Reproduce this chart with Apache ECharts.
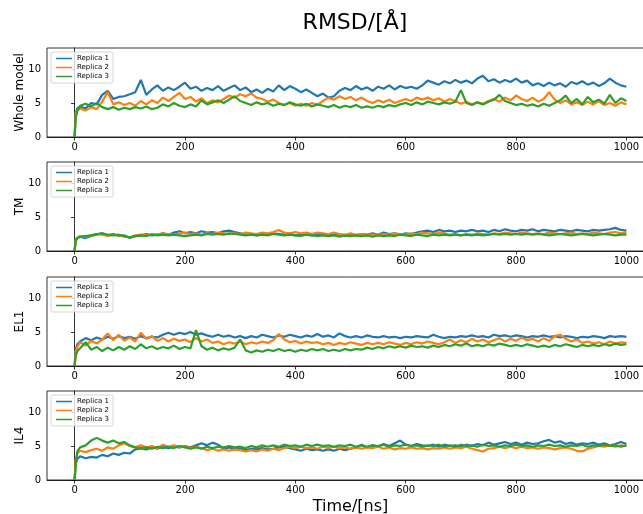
<!DOCTYPE html>
<html>
<head>
<meta charset="utf-8">
<script src="https://cdn.jsdelivr.net/npm/echarts@6/dist/echarts.min.js"></script>
<style>
  html, body { margin: 0; padding: 0; background: #fff; }
  #chart { width: 643px; height: 514px; }
</style>
</head>
<body>
<div id="chart"></div>
<script>
// time axis (ns)
const times = [0,2,5,
  10,20,30,40,50,60,70,80,90,100,
  110,120,130,140,150,160,170,180,190,200,
  210,220,230,240,250,260,270,280,290,300,
  310,320,330,340,350,360,370,380,390,400,
  410,420,430,440,450,460,470,480,490,500,
  510,520,530,540,550,560,570,580,590,600,
  610,620,630,640,650,660,670,680,690,700,
  710,720,730,740,750,760,770,780,790,800,
  810,820,830,840,850,860,870,880,890,900,
  910,920,930,940,950,960,970,980,990,1000];

// Whole model
const wholeRep1 = [0,3.6,4.2,
  4.5,4.2,5.0,4.8,6.2,6.8,5.6,5.9,6.0,6.3,
  6.6,8.4,6.2,7.0,7.6,6.8,7.3,6.9,7.4,8.0,
  7.1,7.4,6.8,7.2,6.9,7.5,6.8,7.2,7.6,6.9,
  7.3,6.6,7.0,6.5,7.1,6.7,7.6,6.9,7.5,7.1,
  6.6,7.0,6.5,6.0,6.4,5.8,6.0,6.8,7.2,6.9,
  7.5,7.0,7.3,6.8,7.4,7.1,7.6,7.0,7.5,7.2,
  7.4,7.1,7.6,8.3,8.0,7.7,8.2,7.9,8.4,8.0,
  8.3,7.9,8.6,9.0,8.2,8.5,8.0,8.4,8.1,8.6,
  8.0,8.3,7.6,7.9,7.5,8.0,7.6,7.9,7.4,8.1,
  7.8,8.2,7.7,8.0,7.5,7.9,8.6,8.0,7.6,7.4];
const wholeRep2 = [0,3.5,3.9,
  4.2,3.9,4.4,4.1,5.2,6.6,4.8,5.1,4.7,5.0,
  4.6,5.3,4.8,5.4,5.0,5.8,5.3,5.9,6.5,5.6,
  5.9,5.2,5.7,5.0,5.4,5.1,5.6,6.1,5.8,6.3,
  6.0,6.4,5.8,5.6,5.2,5.5,5.0,4.7,5.0,4.6,
  4.9,4.6,5.0,4.7,5.3,5.8,5.5,6.0,5.6,5.9,
  5.4,5.8,5.3,5.0,5.4,5.1,5.5,5.0,5.3,5.6,
  5.3,5.8,5.5,5.8,5.4,5.7,5.2,5.6,5.3,4.9,
  5.2,4.8,5.1,4.9,5.3,5.6,5.2,5.8,5.4,6.1,
  5.6,5.3,5.8,5.2,5.6,6.6,5.5,5.0,5.4,4.8,
  5.1,4.7,5.2,4.8,5.3,4.7,5.0,4.6,5.1,4.8];
const wholeRep3 = [0,2.8,3.8,
  4.6,4.9,4.5,5.0,4.4,4.1,4.4,4.0,4.3,4.1,
  4.4,4.2,4.5,4.1,4.3,4.8,4.5,5.0,4.6,4.4,
  4.8,4.5,5.4,4.8,5.1,5.4,5.0,5.5,6.0,5.3,
  5.0,4.7,5.1,4.8,5.0,4.6,4.9,4.7,5.1,4.8,
  4.6,4.9,4.5,4.8,4.6,4.4,4.7,4.3,4.6,4.4,
  4.7,4.3,4.5,4.3,4.6,4.4,4.7,4.5,4.8,5.0,
  4.7,5.1,4.8,5.2,5.0,4.8,5.1,4.9,5.2,6.9,
  5.0,4.7,5.1,4.8,5.2,5.5,6.2,5.3,5.0,4.7,
  4.9,4.6,4.8,4.5,4.9,4.6,5.0,5.4,6.1,5.0,
  5.6,4.8,5.9,5.1,5.5,4.9,6.2,5.0,5.7,5.3];

// TM
const tmRep1 = [0,1.6,1.9,
  2.1,1.9,2.2,2.4,2.6,2.3,2.5,2.2,2.3,1.9,
  2.2,2.3,2.5,2.3,2.4,2.6,2.4,2.7,2.9,2.6,
  2.8,2.6,2.9,2.7,2.8,2.6,2.9,3.0,2.8,2.6,
  2.4,2.5,2.3,2.5,2.4,2.6,2.5,2.4,2.6,2.3,
  2.5,2.4,2.3,2.5,2.4,2.3,2.5,2.4,2.2,2.4,
  2.3,2.5,2.4,2.6,2.4,2.7,2.5,2.6,2.4,2.6,
  2.5,2.7,2.9,3.0,2.8,3.1,2.9,3.0,2.8,3.0,
  2.9,3.1,2.9,3.0,2.8,3.1,2.9,3.2,3.0,2.9,
  3.1,3.0,3.2,2.9,3.1,3.0,2.9,3.1,3.0,2.9,
  3.1,3.0,2.9,3.1,3.0,3.1,3.2,3.4,3.1,3.0];
const tmRep2 = [0,1.7,2.0,
  2.2,2.1,2.3,2.5,2.4,2.2,2.4,2.3,2.1,2.0,
  2.3,2.4,2.3,2.5,2.4,2.6,2.5,2.4,2.6,2.7,
  2.5,2.6,2.4,2.6,2.5,2.7,2.6,2.5,2.6,2.5,
  2.7,2.6,2.5,2.7,2.6,2.8,3.1,2.7,2.6,2.8,
  2.6,2.7,2.5,2.7,2.6,2.5,2.7,2.5,2.4,2.6,
  2.4,2.5,2.3,2.4,2.3,2.5,2.4,2.6,2.5,2.4,
  2.6,2.5,2.7,2.6,2.5,2.7,2.6,2.4,2.5,2.3,
  2.5,2.4,2.6,2.5,2.4,2.6,2.5,2.7,2.6,2.5,
  2.7,2.6,2.5,2.6,2.5,2.7,2.6,2.5,2.6,2.7,
  2.5,2.6,2.5,2.7,2.6,2.5,2.7,2.8,2.6,2.7];
const tmRep3 = [0,1.5,1.9,
  2.1,2.2,2.3,2.5,2.6,2.4,2.3,2.4,2.2,2.0,
  2.2,2.3,2.2,2.4,2.3,2.4,2.3,2.4,2.3,2.2,
  2.3,2.4,2.3,2.5,2.4,2.5,2.4,2.6,2.5,2.4,
  2.3,2.4,2.3,2.4,2.3,2.5,2.4,2.3,2.4,2.3,
  2.2,2.4,2.3,2.2,2.3,2.2,2.3,2.1,2.3,2.2,
  2.3,2.2,2.3,2.1,2.3,2.2,2.3,2.2,2.4,2.3,
  2.2,2.4,2.3,2.2,2.4,2.3,2.4,2.3,2.4,2.3,
  2.4,2.3,2.4,2.3,2.4,2.5,2.4,2.5,2.4,2.5,
  2.4,2.5,2.4,2.5,2.4,2.3,2.4,2.5,2.4,2.3,
  2.4,2.5,2.4,2.3,2.4,2.5,2.4,2.3,2.4,2.4];

// EL1
const el1Rep1 = [0,2.4,3.2,
  3.6,4.1,3.8,4.2,3.9,4.3,4.0,4.4,4.1,4.3,
  4.0,4.4,4.1,4.3,4.2,4.6,4.9,4.6,4.9,4.7,
  5.0,4.6,4.8,4.5,4.3,4.6,4.3,4.5,4.2,4.4,
  4.1,4.4,4.2,4.6,4.4,4.2,4.5,4.3,4.6,4.4,
  4.2,4.5,4.3,4.7,4.3,4.5,4.2,4.8,4.4,4.2,
  4.4,4.2,4.5,4.3,4.2,4.4,4.2,4.3,4.1,4.3,
  4.2,4.4,4.3,4.2,4.6,4.3,4.1,4.3,4.2,4.4,
  4.3,4.5,4.3,4.4,4.2,4.6,4.4,4.5,4.3,4.5,
  4.4,4.2,4.4,4.3,4.5,4.3,4.4,4.2,4.4,4.3,
  4.1,4.3,4.2,4.4,4.3,4.1,4.4,4.3,4.4,4.3];
const el1Rep2 = [0,2.2,2.8,
  3.5,3.0,3.7,3.3,3.9,4.8,3.8,4.6,3.7,4.2,
  3.6,4.9,4.0,4.4,3.7,4.1,3.6,4.0,3.7,3.9,
  3.5,4.1,3.6,3.9,3.4,3.6,3.2,3.5,3.3,3.6,
  3.2,3.5,3.3,3.6,3.4,3.8,4.7,3.9,3.5,3.7,
  3.3,3.6,3.4,3.5,3.2,3.4,3.1,3.4,3.2,3.5,
  3.3,3.1,3.4,3.2,3.4,3.2,3.5,3.3,3.1,3.4,
  3.2,3.5,3.3,3.6,3.4,3.2,3.5,3.9,3.4,3.8,
  3.5,4.0,3.6,3.9,3.5,3.8,4.1,3.6,4.0,3.7,
  4.2,3.8,4.0,3.6,4.1,3.7,4.4,4.6,4.0,3.6,
  3.9,3.4,3.6,3.3,3.5,3.2,3.6,3.3,3.5,3.4];
const el1Rep3 = [0,1.5,2.2,
  2.6,3.5,2.4,2.8,2.2,2.7,2.3,2.8,2.4,2.9,
  2.5,3.2,2.6,2.9,2.5,2.8,2.6,3.0,2.5,2.8,
  2.6,5.3,2.9,2.4,2.7,2.3,2.6,2.4,2.7,3.9,
  2.3,2.0,2.3,2.1,2.4,2.2,2.5,2.2,2.4,2.1,
  2.4,2.2,2.5,2.3,2.5,2.2,2.4,2.2,2.5,2.3,
  2.5,2.4,2.7,2.5,2.8,2.6,2.9,2.7,2.9,2.7,
  3.0,2.8,2.9,2.7,3.0,2.8,3.1,2.9,3.2,3.0,
  3.3,2.9,3.1,2.9,3.2,3.0,3.3,3.1,2.9,3.1,
  2.9,3.2,3.0,2.8,3.0,2.8,3.1,2.9,3.2,3.0,
  2.8,3.1,2.9,3.1,2.9,3.2,3.0,3.3,3.1,3.2];

// IL4
const il4Rep1 = [0,2.5,3.1,
  3.5,3.2,3.4,3.3,3.7,3.5,3.9,3.7,4.0,3.9,
  4.5,4.7,4.5,4.8,4.6,4.9,4.7,4.9,4.8,5.0,
  4.8,5.1,5.4,5.1,5.5,5.2,4.6,4.8,4.5,4.7,
  4.4,4.6,4.5,4.7,4.5,4.6,4.8,4.9,4.7,4.5,
  4.3,4.6,4.4,4.5,4.3,4.5,4.3,4.6,4.4,4.6,
  4.8,5.2,4.8,5.1,4.9,5.3,5.0,5.4,5.8,5.2,
  5.0,5.3,5.1,5.0,5.2,4.9,5.2,5.0,5.1,4.9,
  5.2,5.0,5.3,5.1,5.5,5.2,5.4,5.6,5.3,5.5,
  5.2,5.5,5.3,5.4,5.7,5.9,5.5,5.7,5.3,5.5,
  5.2,5.4,5.3,5.5,5.2,5.4,5.1,5.3,5.6,5.3];
const il4Rep2 = [0,3.0,4.0,
  4.3,4.1,4.4,4.6,4.3,4.8,4.6,5.1,5.4,5.0,
  4.8,5.1,4.8,5.0,4.7,5.2,4.9,5.1,4.8,5.0,
  4.7,4.9,4.7,4.4,4.6,4.3,4.5,4.3,4.5,4.4,
  4.2,4.4,4.2,4.5,4.3,4.6,4.4,4.7,4.9,4.7,
  4.9,4.7,4.8,4.6,4.9,4.7,4.9,4.7,4.8,4.6,
  4.8,4.6,4.8,4.7,4.9,4.6,4.8,4.5,4.7,4.6,
  4.8,4.6,4.7,4.5,4.7,4.6,4.8,4.6,4.8,4.7,
  4.9,4.6,4.4,4.2,4.6,4.7,4.9,4.7,4.9,4.7,
  4.9,4.7,4.8,4.6,4.8,4.7,4.5,4.7,4.8,4.6,
  4.3,4.2,4.6,4.8,5.0,4.9,5.1,4.9,5.1,5.0];
const il4Rep3 = [0,2.2,4.2,
  4.8,5.1,5.8,6.2,5.8,5.5,5.8,5.4,5.6,5.1,
  4.8,4.6,4.8,4.6,4.9,4.7,4.9,4.7,5.0,4.8,
  4.6,4.8,4.6,4.9,4.7,4.9,4.8,5.0,4.8,4.9,
  4.7,5.0,4.8,5.1,4.9,5.1,4.9,5.2,5.0,5.1,
  4.9,5.2,5.0,5.2,5.0,5.1,4.9,5.1,5.0,5.2,
  4.9,5.1,4.9,5.1,5.0,5.2,4.9,5.1,5.0,5.2,
  5.0,5.1,4.9,5.1,5.0,5.2,4.9,5.1,4.9,5.2,
  5.0,5.1,4.9,5.2,5.0,5.1,4.9,5.1,5.0,5.2,
  5.0,5.1,4.9,5.1,5.0,5.2,5.0,5.1,4.9,5.1,
  5.0,5.2,4.9,5.1,5.0,5.2,5.0,5.1,4.9,5.1];

const panelNames = ['Whole model', 'TM', 'EL1', 'IL4'];
const replicaNames = ['Replica 1', 'Replica 2', 'Replica 3'];
const xTicks = [0, 200, 400, 600, 800, 1000];
const yTicks = [0, 5, 10];

const panels = [
  [wholeRep1, wholeRep2, wholeRep3],
  [tmRep1, tmRep2, tmRep3],
  [el1Rep1, el1Rep2, el1Rep3],
  [il4Rep1, il4Rep2, il4Rep3]
];
const colors = ['#1f77b4', '#ff7f0e', '#2ca02c'];
const gridTops = [48, 162, 277, 391];
const gridH = 89;
const font = 'DejaVu Sans';

const grids = [], xAxes = [], yAxes = [], series = [], legends = [];
panels.forEach((reps, p) => {
  // axes run past the right edge of the picture, like the original
  grids.push({
    left: 47, width: 607, top: gridTops[p], height: gridH,
    outerBoundsMode: 'none', containLabel: false,
    show: true, borderColor: '#000', borderWidth: 0.8, backgroundColor: 'transparent'
  });
  xAxes.push({
    type: 'value', gridIndex: p, min: -50, max: 1050,
    axisLine: { show: true, onZero: false, lineStyle: { color: '#000', width: 0.8 } },
    axisTick: { show: true, inside: false, length: 3.5, customValues: xTicks, lineStyle: { color: '#000', width: 0.8 } },
    axisLabel: { show: true, customValues: xTicks, formatter: v => String(v), margin: 5, fontSize: 10, color: '#000', fontFamily: font },
    splitLine: { show: false },
    name: p === 3 ? 'Time/[ns]' : '',
    nameLocation: 'middle', nameGap: 19, nameMoveOverlap: false,
    nameTextStyle: { fontSize: 16, color: '#000', fontFamily: font }
  });
  yAxes.push({
    type: 'value', gridIndex: p, min: 0, max: 13.1,
    axisLine: { show: true, lineStyle: { color: '#000', width: 0.8 } },
    axisTick: { show: true, inside: false, length: 3.5, customValues: yTicks, lineStyle: { color: '#000', width: 0.8 } },
    axisLabel: { show: true, customValues: yTicks, margin: 6, fontSize: 10, color: '#000', fontFamily: font },
    splitLine: { show: false },
    name: panelNames[p], nameLocation: 'middle', nameGap: 21, nameRotate: 90, nameMoveOverlap: false,
    nameTextStyle: { fontSize: 12, color: '#000', fontFamily: font, verticalAlign: 'bottom' }
  });
  reps.forEach((vals, r) => {
    series.push({
      name: replicaNames[r], type: 'line', xAxisIndex: p, yAxisIndex: p,
      data: times.map((t, i) => [t, vals[i]]),
      symbol: 'none', lineStyle: { color: colors[r], width: 2.2 }, itemStyle: { color: colors[r] },
      z: 2 + r, silent: true
    });
  });
  legends.push({
    data: replicaNames, orient: 'vertical', left: 51, top: gridTops[p] + 4,
    icon: 'rect', itemWidth: 16, itemHeight: 1.5, itemGap: 2, padding: [3, 4, 3, 5],
    borderColor: '#ccc', borderWidth: 0.8, borderRadius: 2, backgroundColor: 'rgba(255,255,255,0.8)',
    textStyle: { fontSize: 7, color: '#000', fontFamily: font }
  });
});

const chart = echarts.init(document.getElementById('chart'));
chart.setOption({
  animation: false,
  backgroundColor: '#fff',
  title: {
    text: 'RMSD/[Å]', left: 350, top: 7, textAlign: 'center',
    textStyle: { fontSize: 22, fontWeight: 'normal', color: '#000', fontFamily: font }
  },
  grid: grids,
  xAxis: xAxes,
  yAxis: yAxes,
  legend: legends,
  series: series
});
</script>
</body>
</html>
